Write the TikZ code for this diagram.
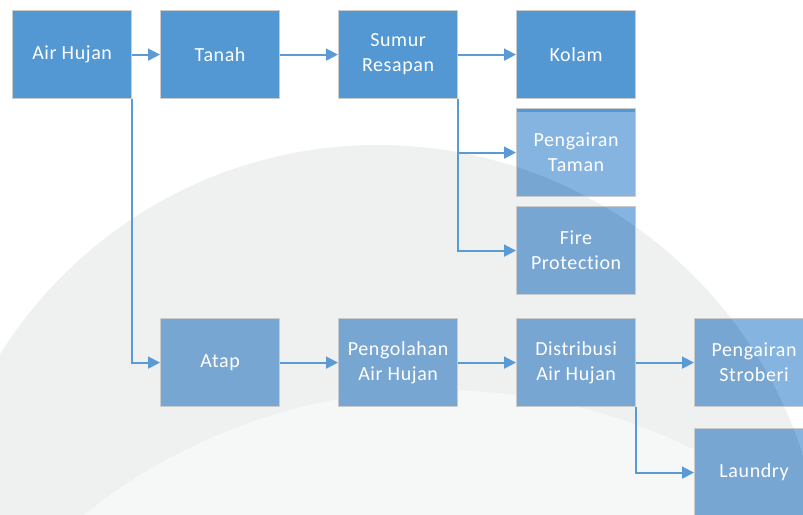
\documentclass[tikz,border=0pt]{standalone}
\usepackage{fontspec}
\setmainfont{Carlito}[LetterSpace=3,Ligatures={NoCommon,NoRare}]
\usetikzlibrary{arrows.meta,backgrounds}
\definecolor{boxA}{HTML}{5397D3}
\definecolor{boxB}{HTML}{77A6D2}
\definecolor{boxC}{HTML}{86B4E0}
\definecolor{lineC}{HTML}{5B9BD5}
\definecolor{edgeC}{HTML}{C9CBCD}
\definecolor{wm}{HTML}{EFF0F0}
\definecolor{wmin}{HTML}{F6F7F7}
\tikzset{
  blk/.style={draw=edgeC, line width=1.2pt, fill=boxA, text=white, minimum width=119pt, minimum height=88pt, align=center, inner sep=0pt, font=\fontsize{20}{25}\selectfont, anchor=north west},
  blkb/.style={blk, fill=none},
  conn/.style={draw=lineC, line width=1.8pt, -{Triangle[length=12pt,width=12pt]}}
}
\begin{document}
\begin{tikzpicture}[x=1pt,y=-1pt]
\useasboundingbox (0,0) rectangle (803,514);
\node[blk] (air) at (12,10) {Air Hujan};
\node[blk] (tanah) at (160,10) {Tanah};
\node[blk] (sumur) at (338,10) {Sumur\\Resapan};
\node[blk] (kolam) at (516,10) {Kolam};
\node[blkb] (taman) at (516,108) {Pengairan\\Taman};
\node[blkb] (fire) at (516,206) {Fire\\Protection};
\node[blkb] (atap) at (160,318) {Atap};
\node[blkb] (olah) at (338,318) {Pengolahan\\Air Hujan};
\node[blkb] (dist) at (516,318) {Distribusi\\Air Hujan};
\node[blkb] (strob) at (694,318) {Pengairan\\Stroberi};
\node[blkb] (laun) at (694,428) {Laundry};
\begin{pgfonlayer}{background}
  \begin{scope}
    \clip (0,0) rectangle (803,514);
    \fill[wm] (378,591) circle (446);
    \fill[wmin] (440,960) circle (570);
  \end{scope}
  \foreach \n in {taman,fire,atap,olah,dist,strob,laun}{
    \fill[boxC] (\n.north west) rectangle (\n.south east);
  }
  \begin{scope}
    \clip (378,591) circle (446);
    \foreach \n in {taman,fire,atap,olah,dist,strob,laun}{
      \fill[boxB] (\n.north west) rectangle (\n.south east);
    }
  \end{scope}
  \fill[boxA] (taman.north west) rectangle ([yshift=-4pt]taman.north east);
\end{pgfonlayer}
\path[conn] (air) -- (tanah);
\path[conn] (tanah) -- (sumur);
\path[conn] (sumur) -- (kolam);
\path[conn] (air.south east) -- (air.south east |- atap.west) -- (atap.west);
\path[conn] (sumur.south east) -- (sumur.south east |- taman.west) -- (taman.west);
\path[conn] (sumur.south east) -- (sumur.south east |- fire.west) -- (fire.west);
\path[conn] (atap) -- (olah);
\path[conn] (olah) -- (dist);
\path[conn] (dist) -- (strob);
\path[conn] (dist.south east) -- (dist.south east |- laun.west) -- (laun.west);
\end{tikzpicture}
\end{document}
